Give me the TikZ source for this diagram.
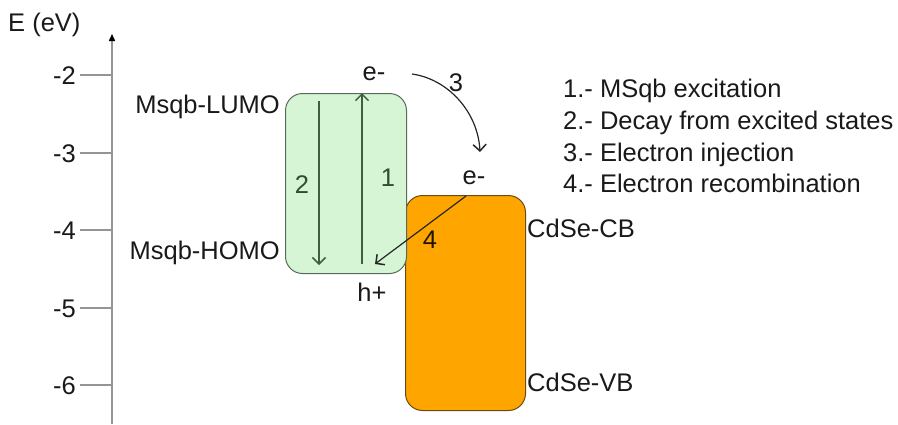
\documentclass[tikz,border=0pt]{standalone}
\usepackage{fontspec}
\setmainfont{Liberation Sans}
\usetikzlibrary{arrows.meta}
\definecolor{greenfill}{HTML}{D5F5D5}
\definecolor{greenline}{HTML}{5A6A5A}
\definecolor{arrgreen}{HTML}{3E5E3E}
\definecolor{orangefill}{HTML}{FFA500}
\definecolor{orangeline}{HTML}{6B4A10}
\definecolor{axisgray}{HTML}{959595}
\tikzset{
  txt/.style={font=\fontsize{25.5}{30}\selectfont, inner sep=0pt, text=black!90},
  numlbl/.style={txt, anchor=base},
  ticklbl/.style={txt, anchor=base east},
  band/.style={rounded corners=17pt, line width=1pt},
  barb/.style={-{Straight Barb[length=6.5pt,width=13pt,line width=1.5pt]}, line width=1.2pt},
}
\begin{document}
\begin{tikzpicture}[x=1pt,y=-1pt]
\useasboundingbox (0,0) rectangle (898,424);
% axis
\coordinate (axbot) at (112,424);
\coordinate (axtop) at (112,34);
\draw[axisgray, line width=1.5pt, -{Triangle[length=7pt,width=6pt,color=black]}] (axbot) -- (axtop);
\node[txt, anchor=base west] (elabel) at (8,31) {E (eV)};
% ticks
\foreach \v/\y in {-2/75,-3/153,-4/230,-5/308,-6/385}{
  \coordinate (t\v a) at (80,\y);
  \coordinate (t\v b) at (112,\y);
  \draw[axisgray, line width=1.2pt] (t\v a) -- (t\v b);
  \node[ticklbl] (tl\v) at (76,\y+9) {\v};
}
% bands
\node[band, draw=orangeline, fill=orangefill, minimum width=120pt, minimum height=215pt, anchor=north west, inner sep=0pt] (cdse) at (405,195) {};
\node[band, draw=greenline, fill=greenfill, minimum width=121pt, minimum height=180pt, anchor=north west, inner sep=0pt] (msqb) at (285,93) {};
% labels
\node[txt, anchor=base east] (lumo) at (280,113) {Msqb-LUMO};
\node[txt, anchor=base east] (homo) at (280,259) {Msqb-HOMO};
\node[txt, anchor=base west] (cb) at (527,237) {CdSe-CB};
\node[txt, anchor=base west] (vb) at (527,391) {CdSe-VB};
\node[numlbl] (e1) at (374,80) {e-};
\node[numlbl] (e2) at (474,184) {e-};
\node[numlbl] (hp) at (372,301) {h+};
% process arrows
\coordinate (a2s) at (319,101);
\coordinate (a2e) at (319,265);
\coordinate (a1s) at (362,264);
\coordinate (a1e) at (362,93);
\draw[barb, arrgreen] (a2s) -- (a2e);
\draw[barb, arrgreen] (a1s) -- (a1e);
\node[numlbl, text=arrgreen!80!black] (n2) at (302,193) {2};
\node[numlbl, text=arrgreen!80!black] (n1) at (388,186) {1};
\coordinate (a3s) at (412,74);
\coordinate (a3e) at (480,152);
\draw[barb, black!85] (a3s) .. controls (448,79) and (478,112) .. (a3e);
\node[numlbl] (n3) at (456,91) {3};
\coordinate (a4s) at (466,196);
\coordinate (a4e) at (375,264);
\draw[barb, black!85] (a4s) -- (a4e);
\node[numlbl, text=black!70!orangefill!40!black] (n4) at (430,248) {4};
% legend
\node[txt, anchor=base west] (l1) at (563,97) {1.- MSqb excitation};
\node[txt, anchor=base west] (l2) at (563,129) {2.- Decay from excited states};
\node[txt, anchor=base west] (l3) at (563,161) {3.- Electron injection};
\node[txt, anchor=base west] (l4) at (563,192) {4.- Electron recombination};
\end{tikzpicture}
\end{document}
